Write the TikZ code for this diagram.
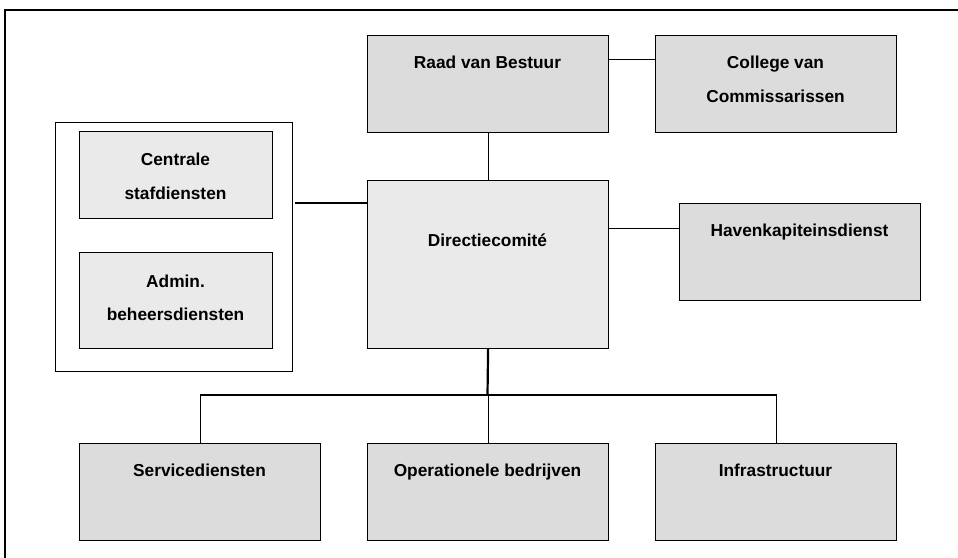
\documentclass[tikz,border=0pt]{standalone}
\usepackage{fontspec}
\setmainfont{Liberation Sans}
\usetikzlibrary{calc}
\definecolor{boxdark}{gray}{0.863}
\definecolor{boxlight}{gray}{0.918}
\begin{document}
\begin{tikzpicture}[x=1pt,y=-1pt,
  line width=1.2pt,
  box/.style={draw=black, line width=1.2pt, inner sep=0pt, anchor=north west},
  dark/.style={box, fill=boxdark},
  light/.style={box, fill=boxlight},
  txt/.style={font=\fontsize{17.3}{34}\selectfont\bfseries, inner sep=0pt, anchor=base}]
\useasboundingbox (0,0) rectangle (958,557);
\fill[white] (0,0) rectangle (958,557);
% outer frame
\draw[line width=1.3pt] (5,560) -- (5,10) -- (962,10);
% boxes
\node[dark, minimum width=241pt, minimum height=97pt] (raad) at (367,35) {};
\node[dark, minimum width=241pt, minimum height=97pt] (college) at (655,35) {};
\node[light, minimum width=241pt, minimum height=168pt] (dir) at (367,180) {};
\node[box, minimum width=237pt, minimum height=249pt] (group) at (55,122) {};
\node[light, minimum width=193pt, minimum height=87pt] (centrale) at (79,131) {};
\node[light, minimum width=193pt, minimum height=96pt] (admin) at (79,252) {};
\node[dark, minimum width=241pt, minimum height=97pt] (haven) at (679,203) {};
\node[dark, minimum width=241pt, minimum height=97pt] (serv) at (79,443) {};
\node[dark, minimum width=241pt, minimum height=97pt] (oper) at (367,443) {};
\node[dark, minimum width=241pt, minimum height=97pt] (infra) at (655,443) {};
% texts
\node[txt] (traad) at (487.5,68.3) {Raad van Bestuur};
\node[txt] (tcollege1) at (775.5,68.3) {College van};
\node[txt] (tcollege2) at (775.5,102.3) {Commissarissen};
\node[txt] (tdir) at (487.5,246.3) {Directiecomité};
\node[txt] (tcentrale1) at (175.5,165.7) {Centrale};
\node[txt] (tcentrale2) at (175.5,199) {stafdiensten};
\node[txt] (tadmin1) at (175.5,287) {Admin.};
\node[txt] (tadmin2) at (175.5,320.3) {beheersdiensten};
\node[txt] (thaven) at (799.5,236) {Havenkapiteinsdienst};
\node[txt] (tserv) at (199.5,476.3) {Servicediensten};
\node[txt] (toper) at (487.5,476.3) {Operationele bedrijven};
\node[txt] (tinfra) at (775.5,476.3) {Infrastructuur};
% connectors
\coordinate (rc) at ($(college.north west)!0.247!(college.south west)$);
\draw (rc -| raad.east) -- (rc);
\draw (raad.south) -- (dir.north);
\coordinate (gl) at (295,203);
\draw (gl) -- (gl -| dir.west);
\coordinate (hv) at ($(haven.north west)!0.258!(haven.south west)$);
\draw (hv -| dir.east) -- (hv);
\coordinate (bus) at (487.5,395);
\draw[line width=2.2pt] (dir.south) -- (bus);
\draw (serv.north) |- (bus) -| (infra.north);
\draw (oper.north) -- (oper.north |- bus);
\end{tikzpicture}
\end{document}
